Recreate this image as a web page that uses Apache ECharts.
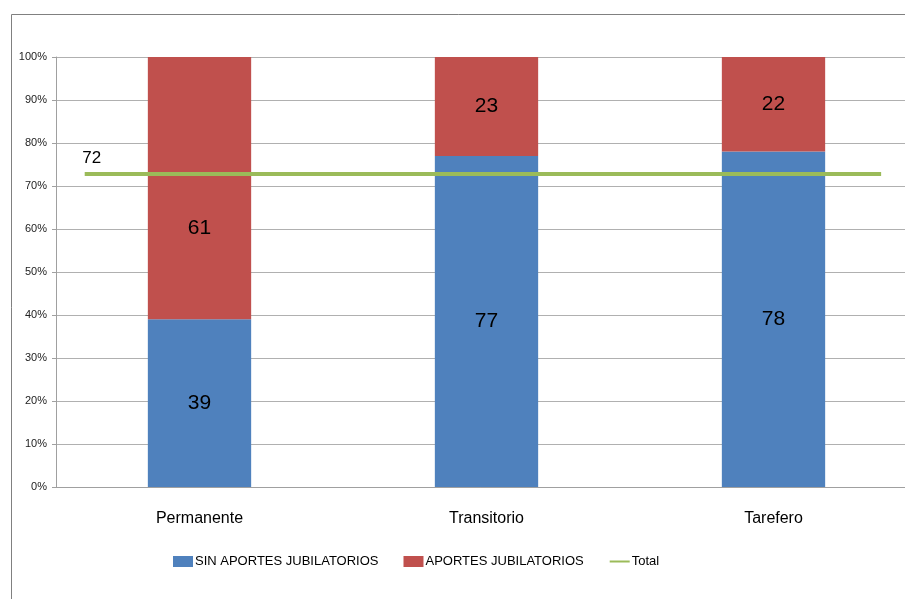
<!DOCTYPE html>
<html><head><meta charset="utf-8">
<script src="https://cdn.jsdelivr.net/npm/echarts@6/dist/echarts.min.js"></script>
<style>html,body{margin:0;padding:0;background:#fff}#c{width:905px;height:599px}</style>
</head><body><div id="c"></div>
<script>
const categories = ['Permanente', 'Transitorio', 'Tarefero'];
const sinAportes = [39, 77, 78];
const aportes = [61, 23, 22];
const totalValue = 72.8;
const totalLabel = '72';
const totalSpan = [0.1, 2.875];
const yTicks = [0, 10, 20, 30, 40, 50, 60, 70, 80, 90, 100];

const FONT = 'Liberation Sans, sans-serif';
const chart = echarts.init(document.getElementById('c'));
chart.setOption({
  animation: false,
  backgroundColor: '#fff',
  graphic: [{type:'rect', shape:{x:11.5, y:14.5, width:960, height:700}, style:{fill:'none', stroke:'#808080', lineWidth:1}, z:-10}],
  grid: {left: 56, top: 57, height: 430, width: 861, outerBoundsMode: 'none', containLabel: false},
  legend: {
    top: 550, left: 168, itemGap: 25, itemWidth: 20, itemHeight: 11,
    textStyle: {fontFamily: FONT, fontSize: 13, color: '#000', padding: [0, 0, 0, -3]},
    data: [{name:'SIN APORTES JUBILATORIOS', icon:'rect'}, {name:'APORTES JUBILATORIOS', icon:'rect'}, {name:'Total', itemStyle: {opacity: 0}}]
  },
  xAxis: [{
    type: 'category', data: categories,
    axisLine: {lineStyle: {color: '#a0a0a0'}}, axisTick: {show: false},
    axisLabel: {fontFamily: FONT, fontSize: 16, color: '#000', margin: 24}
  }, {
    type: 'value', min: 0, max: 3, show: false
  }],
  yAxis: {
    type: 'value', min: yTicks[0], max: yTicks[yTicks.length-1], interval: 10,
    axisLine: {show: true, lineStyle: {color: '#a0a0a0'}},
    axisTick: {show: true, length: 4, lineStyle: {color: '#a0a0a0'}},
    splitLine: {lineStyle: {color: '#b0b0b0'}},
    axisLabel: {formatter: '{value}%', fontFamily: FONT, fontSize: 11, color: '#222', margin: 9}
  },
  series: [{
    name: 'SIN APORTES JUBILATORIOS', type: 'bar', stack: 's', data: sinAportes, barWidth: '36%',
    itemStyle: {color: '#4f81bd'},
    label: {show: true, position: 'inside', fontFamily: FONT, fontSize: 21, color: '#000'}
  }, {
    name: 'APORTES JUBILATORIOS', type: 'bar', stack: 's', barWidth: '36%',
    data: aportes.map((v, i) => i === 0 ? {value: v, label: {offset: [0, 40]}} : v),
    itemStyle: {color: '#c0504d'},
    label: {show: true, position: 'inside', fontFamily: FONT, fontSize: 21, color: '#000'}
  }, {
    name: 'Total', type: 'line', xAxisIndex: 1, symbol: 'circle', symbolSize: 0.01,
    lineStyle: {color: '#9bbb59', width: 4}, itemStyle: {color: '#9bbb59'},
    label: {show: true, formatter: (p) => p.dataIndex === 0 ? totalLabel : '', position: 'top', offset: [7, -2], fontFamily: FONT, fontSize: 17, color: '#000'},
    data: [[totalSpan[0], totalValue], [totalSpan[1], totalValue]],
    z: 5
  }]
});
</script></body></html>
